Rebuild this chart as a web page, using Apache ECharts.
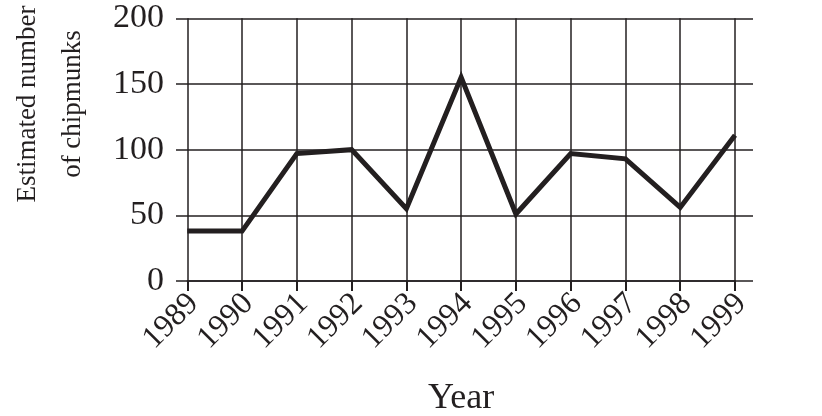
<!DOCTYPE html>
<html>
<head>
<meta charset="utf-8">
<script src="https://cdn.jsdelivr.net/npm/echarts@6/dist/echarts.min.js"></script>
<style>
html,body{margin:0;padding:0;background:#fff;}
#chart{width:822px;height:416px;}
</style>
</head>
<body>
<div id="chart"></div>
<script>
var years = ['1989','1990','1991','1992','1993','1994','1995','1996','1997','1998','1999'];
var chipmunks = [38, 38, 97, 100, 55, 155, 51, 97, 93, 56, 111];
var yTicks = [0, 50, 100, 150, 200];
var xTitle = 'Year';
var yTitle = 'Estimated number\nof chipmunks';

var font = '"Liberation Serif", "Times New Roman", serif';
var ink = '#231f20';

var chart = echarts.init(document.getElementById('chart'), null, {renderer: 'canvas'});
chart.setOption({
  animation: false,
  backgroundColor: '#fff',
  grid: [
    {left: 176, right: 69, top: 18.3, bottom: 135, containLabel: false, outerBoundsMode: 'none'},
    {left: 187.3, right: 87, top: 18.3, bottom: 135, containLabel: false, outerBoundsMode: 'none'}
  ],
  xAxis: [
    {gridIndex: 0, type: 'value', min: 0, max: 1, show: false},
    {
      gridIndex: 1, type: 'category', data: years, boundaryGap: false,
      name: xTitle, nameLocation: 'middle', nameGap: 100,
      nameTextStyle: {fontFamily: font, fontSize: 36, color: ink},
      axisLine: {show: true, lineStyle: {color: ink, width: 1.5}},
      axisTick: {show: true, interval: 0, inside: false, length: 10, lineStyle: {color: ink, width: 2}},
      axisLabel: {interval: 0, rotate: 45, margin: 24, padding: [0, -9, 0, 0],
        fontFamily: font, fontSize: 32, color: ink},
      splitLine: {show: true, interval: 0, lineStyle: {color: ink, width: 1.5}}
    }
  ],
  yAxis: [
    {
      gridIndex: 0, type: 'value', min: 0, max: 200, interval: 50,
      axisLine: {show: false},
      axisTick: {show: false},
      axisLabel: {margin: 12, fontFamily: font, fontSize: 34, color: ink,
        formatter: function (v) { return yTicks.indexOf(v) >= 0 ? String(v) : ''; }},
      splitLine: {show: true, lineStyle: {color: ink, width: 1.5}}
    },
    {gridIndex: 1, type: 'value', min: 0, max: 200, interval: 50, show: false,
      splitLine: {show: false}}
  ],
  graphic: [
    {
      type: 'text', x: 50, y: 104, rotation: Math.PI / 2,
      style: {text: yTitle, fontFamily: font, fontSize: 27, fill: ink,
        align: 'center', verticalAlign: 'middle', lineHeight: 45}
    }
  ],
  series: [
    {
      type: 'line', xAxisIndex: 1, yAxisIndex: 1, data: chipmunks,
      symbol: 'none', lineStyle: {color: ink, width: 5, join: 'miter'},
      z: 5
    }
  ]
});
</script>
</body>
</html>
